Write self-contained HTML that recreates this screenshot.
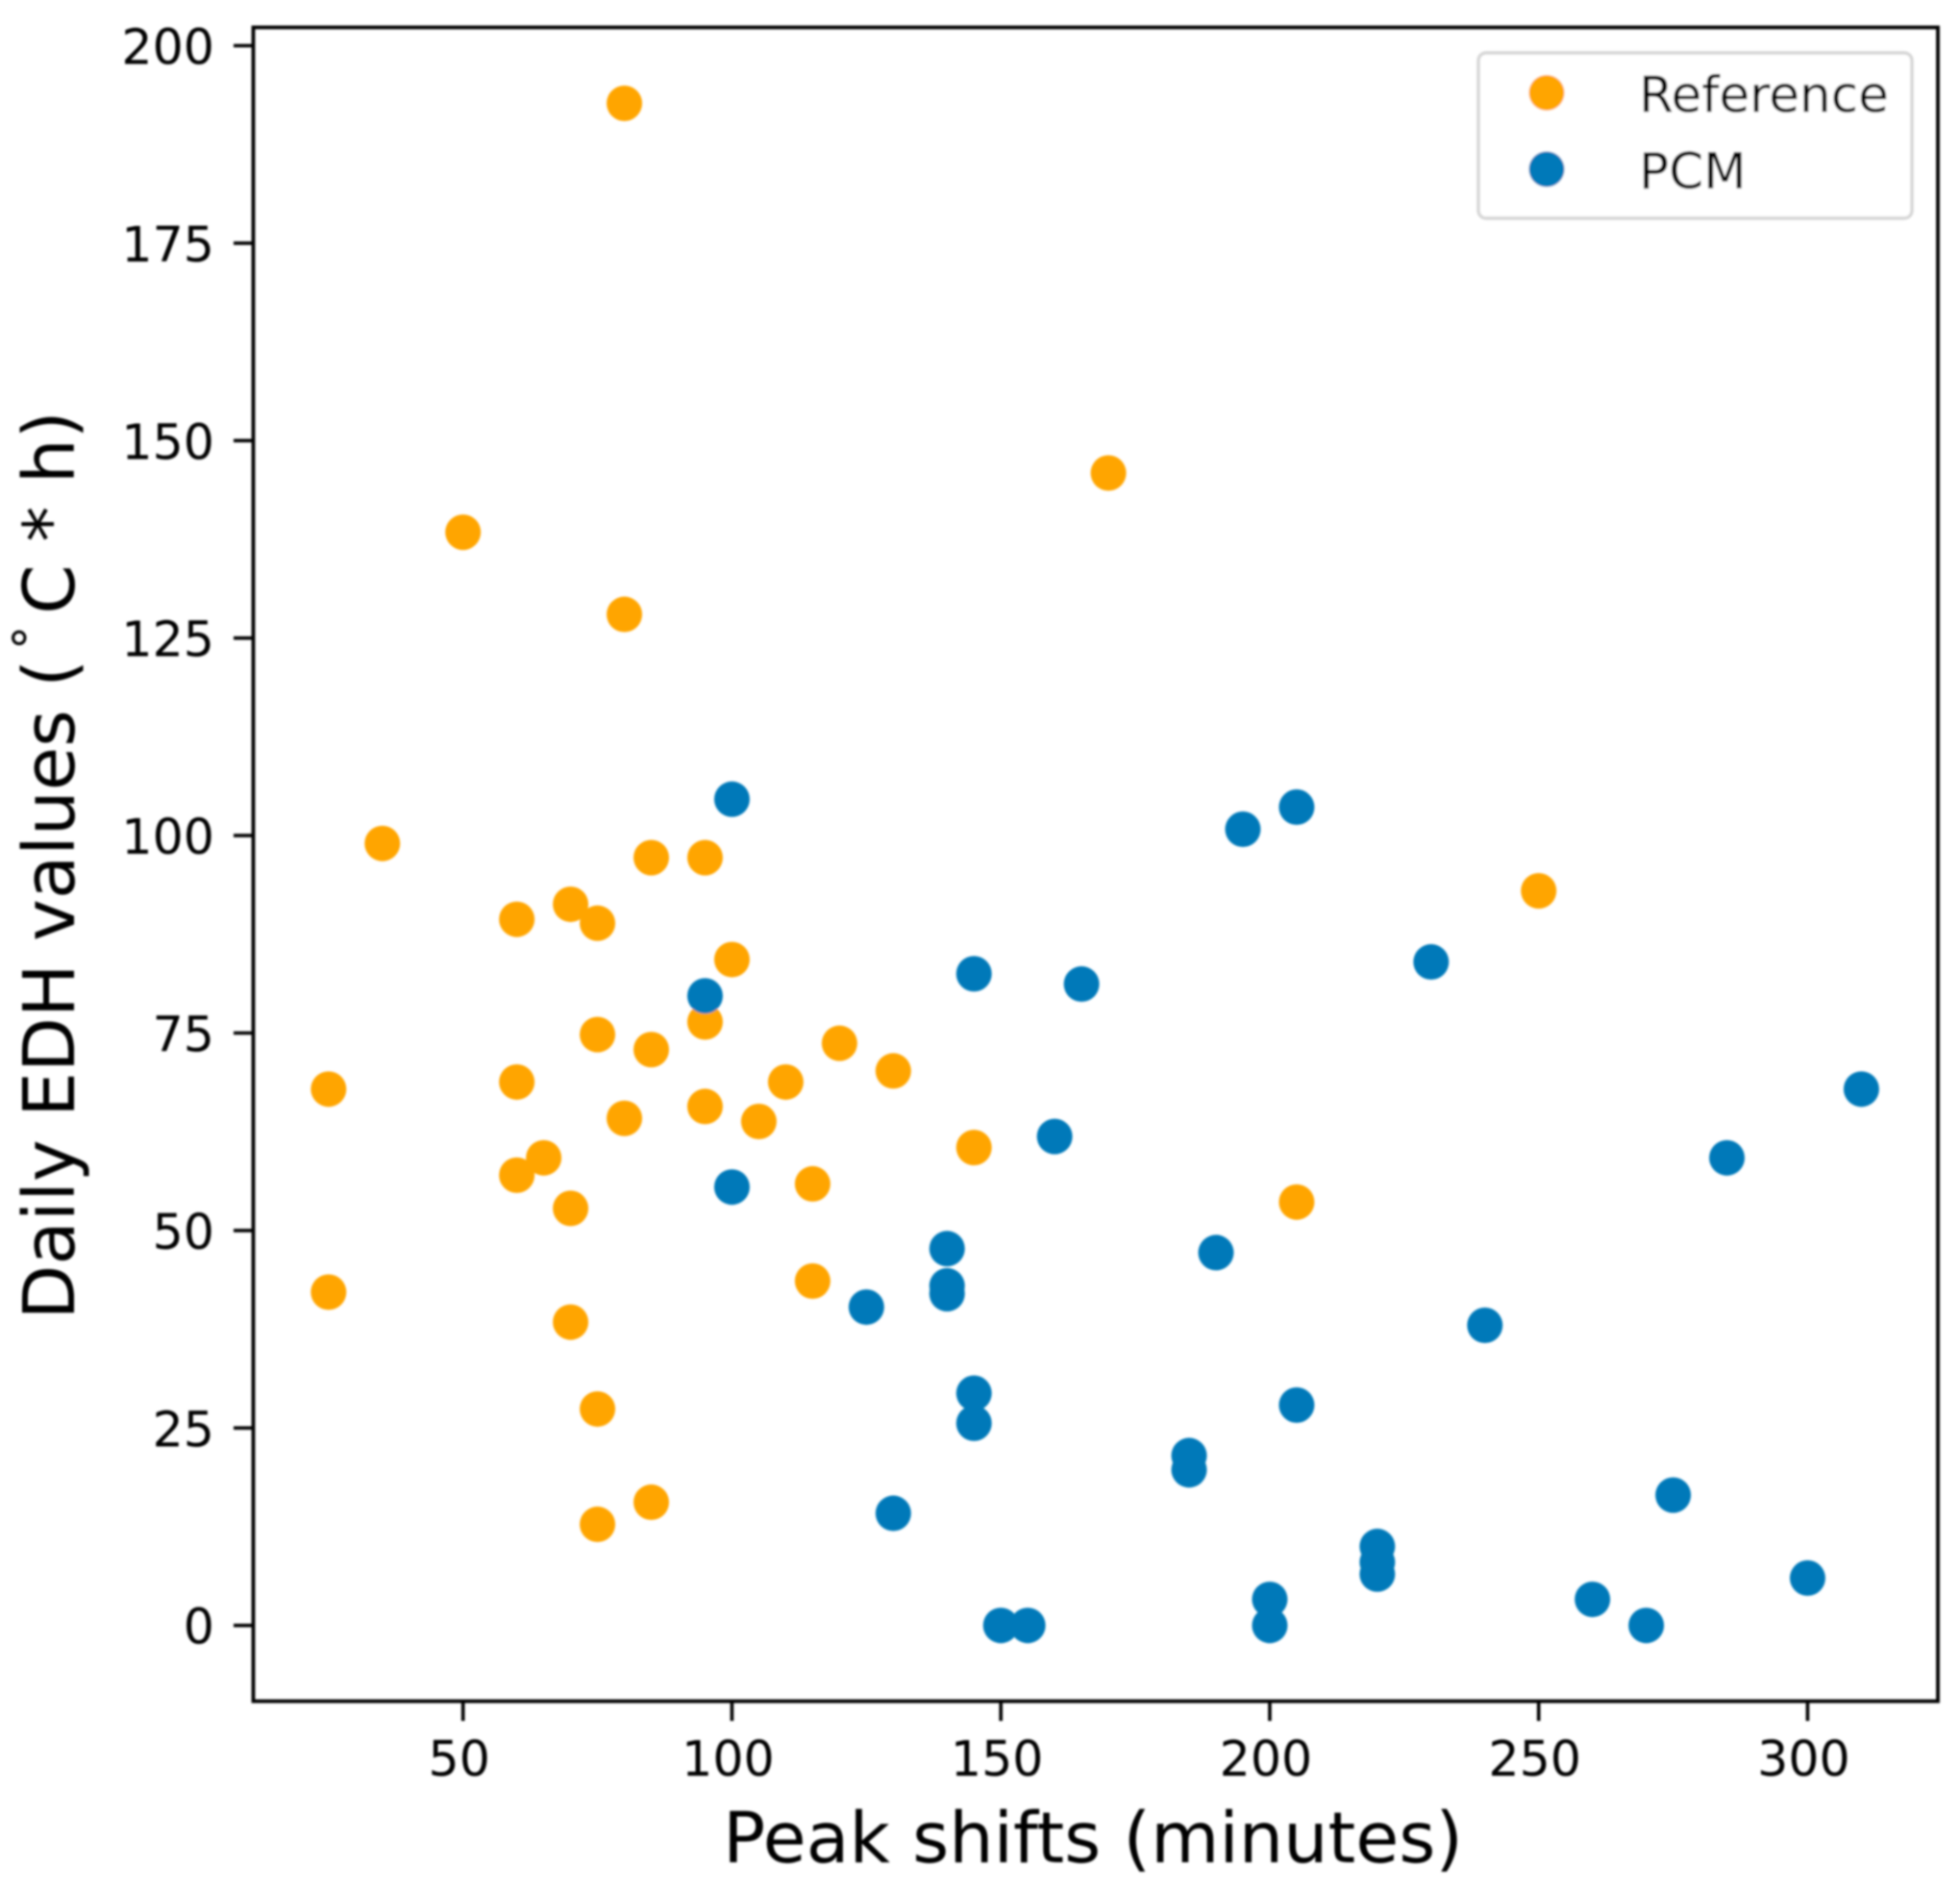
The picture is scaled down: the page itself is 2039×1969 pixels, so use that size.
<!DOCTYPE html>
<html lang="en">
<head>
<meta charset="utf-8">
<title>Daily EDH values vs peak shifts</title>
<style>
html,body{margin:0;padding:0;background:#fff;}
svg{display:block;}
text{font-family:"DejaVu Sans","Liberation Sans",sans-serif;fill:#000;}
</style>
</head>
<body>
<svg id="chart" xmlns="http://www.w3.org/2000/svg" width="2039" height="1969" viewBox="0 0 2039 1969">
  <defs>
    <filter id="soft" x="-5%" y="-5%" width="110%" height="110%">
      <feGaussianBlur stdDeviation="1"/>
    </filter>
  </defs>
  <rect width="2039" height="1969" fill="#ffffff"/>
  <g id="root" filter="url(#soft)">
    <g id="points"></g>
    <rect x="263.5" y="28.5" width="1752.5" height="1741" fill="none" stroke="#000" stroke-width="3.8"/>
    <g id="xticks"></g>
    <g id="yticks"></g>
    <text x="1137" y="1937" font-size="73.2" text-anchor="middle">Peak shifts (minutes)</text>
    <text transform="translate(77 900) rotate(-90)" font-size="74" text-anchor="middle" xml:space="preserve">Daily EDH values (<tspan font-size="50" dy="-28" dx="10">°</tspan><tspan dy="28" dx="12">C * h)</tspan></text>
    <g id="legend">
      <rect x="1538" y="55" width="451" height="172" rx="8" ry="8" fill="#ffffff" stroke="#d6d6d6" stroke-width="3.4"/>
      <circle cx="1609" cy="96.5" r="18.5" fill="#ffa500"/>
      <text x="1705" y="116.5" font-size="51.6">Reference</text>
      <circle cx="1609" cy="176" r="18.5" fill="#0079b9"/>
      <text x="1705" y="196" font-size="51.6">PCM</text>
    </g>
  </g>
</svg>
<script>
const xTickValues = [50, 100, 150, 200, 250, 300];
const yTickValues = [0, 25, 50, 75, 100, 125, 150, 175, 200];

const referenceX = [80, 170, 50, 80, 35, 85, 95, 60, 70, 75, 250, 100, 95, 75, 85, 120, 130, 25, 60, 110, 95, 80, 105, 145, 65, 60, 115, 205, 70, 115, 25, 70, 75, 85, 75];
const referenceY = [192.7, 145.9, 138.4, 128, 99, 97.2, 97.2, 89.4, 91.3, 88.9, 93, 84.3, 76.4, 74.8, 72.9, 73.7, 70.2, 67.9, 68.8, 68.8, 65.7, 64.2, 63.8, 60.5, 59.2, 57, 55.9, 53.6, 52.8, 43.6, 42.2, 38.4, 27.4, 15.6, 12.8];

const pcmX = [100, 205, 195, 145, 165, 230, 95, 310, 285, 160, 100, 140, 190, 140, 140, 125, 240, 145, 145, 205, 185, 185, 275, 130, 220, 220, 220, 300, 200, 260, 150, 155, 200, 270];
const pcmY = [104.6, 103.6, 100.8, 82.5, 81.2, 84, 79.7, 67.9, 59.2, 61.9, 55.5, 47.7, 47.2, 43, 42, 40.3, 38, 29.4, 25.6, 27.9, 21.5, 19.7, 16.5, 14.2, 10, 8, 6.5, 6, 3.3, 3.3, 0, 0, 0, 0];

function xScale(v) { return 481.7 + (v - 50) * 5.595; }
function yScale(v) { return 1690.7 - v * 8.216; }

const NS = 'http://www.w3.org/2000/svg';

function drawPoints(xs, ys, color, seriesName) {
  const layer = document.getElementById('points');
  xs.forEach(function (xv, i) {
    const c = document.createElementNS(NS, 'circle');
    c.setAttribute('cx', xScale(xv));
    c.setAttribute('cy', yScale(ys[i]));
    c.setAttribute('r', 18.5);
    c.setAttribute('fill', color);
    
    
    layer.appendChild(c);
  });
}

drawPoints(referenceX, referenceY, '#ffa500', 'reference-point');
drawPoints(pcmX, pcmY, '#0079b9', 'pcm-point');

xTickValues.forEach(function (v) {
  const g = document.getElementById('xticks');
  const line = document.createElementNS(NS, 'line');
  line.setAttribute('x1', xScale(v));
  line.setAttribute('x2', xScale(v));
  line.setAttribute('y1', 1770);
  line.setAttribute('y2', 1790);
  line.setAttribute('stroke', '#000');
  line.setAttribute('stroke-width', 3.6);
  
  
  g.appendChild(line);
  const t = document.createElementNS(NS, 'text');
  t.setAttribute('x', xScale(v) - 4);
  t.setAttribute('y', 1847);
  t.setAttribute('font-size', 50.6);
  t.setAttribute('text-anchor', 'middle');
  
  
  t.textContent = v;
  g.appendChild(t);
});

yTickValues.forEach(function (v) {
  const g = document.getElementById('yticks');
  const line = document.createElementNS(NS, 'line');
  line.setAttribute('x1', 243);
  line.setAttribute('x2', 263);
  line.setAttribute('y1', yScale(v));
  line.setAttribute('y2', yScale(v));
  line.setAttribute('stroke', '#000');
  line.setAttribute('stroke-width', 3.6);
  
  
  g.appendChild(line);
  const t = document.createElementNS(NS, 'text');
  t.setAttribute('x', 223);
  t.setAttribute('y', yScale(v) + 19);
  t.setAttribute('font-size', 50.6);
  t.setAttribute('text-anchor', 'end');
  
  
  t.textContent = v;
  g.appendChild(t);
});
</script>
</body>
</html>
